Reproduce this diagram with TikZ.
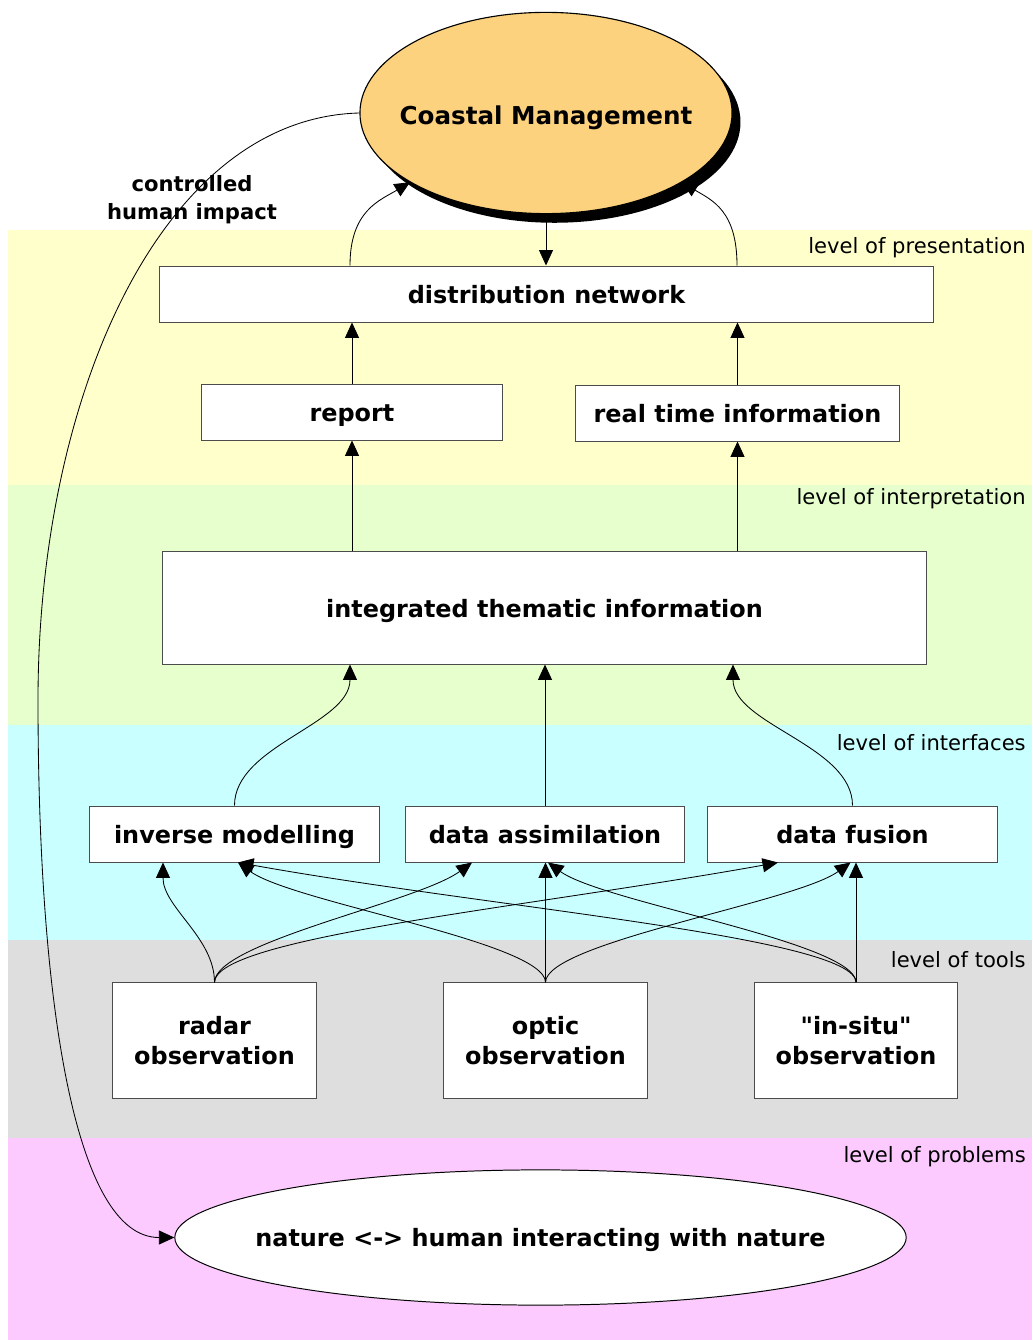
\documentclass[tikz,border=0pt]{standalone}
\usepackage{fontspec}
\setmainfont{DejaVu Sans}[Ligatures=TeXOff]
\usetikzlibrary{arrows.meta,shapes.geometric,shadows,calc}

\definecolor{presentation}{HTML}{FFFFCC}
\definecolor{interpretation}{HTML}{E6FFCC}
\definecolor{interfaces}{HTML}{C9FFFF}
\definecolor{tools}{HTML}{DEDEDE}
\definecolor{problems}{HTML}{FCCAFE}
\definecolor{coastal}{HTML}{FCD27E}

\newcommand{\boxfont}{\fontsize{17}{21.3}\selectfont\bfseries}
\newcommand{\cmfont}{\fontsize{17.5}{21}\selectfont\bfseries}
\newcommand{\impactfont}{\fontsize{15}{20}\selectfont\bfseries}
\newcommand{\levelfont}{\fontsize{15}{18}\selectfont}

\tikzset{
	box/.style={draw=black!70, fill=white, line width=0.7pt, inner sep=0pt, font=\boxfont},
	line/.style={box, text height=16pt, text depth=3pt, minimum height=1.4cm},
	tool/.style={box, align=center, minimum width=5.08cm, minimum height=2.88cm},
	oval/.style={ellipse, draw=black, inner sep=0pt},
	level/.style={anchor=east, inner sep=0pt, font=\levelfont},
	arrow/.style={-{Triangle[length=11pt,width=10pt]}, line width=0.6pt}
}

\begin{document}
\begin{tikzpicture}[x=0.025cm, y=-0.025cm]
\useasboundingbox (0,0) rectangle (1032,1340);

% levels
\fill[presentation] (8,230) rectangle (1032,485);
\fill[interpretation] (8,485) rectangle (1032,725);
\fill[interfaces] (8,725) rectangle (1032,940);
\fill[tools] (8,940) rectangle (1032,1138);
\fill[problems] (8,1138) rectangle (1032,1340);

\node (lpres) at (1026,248) [level] {level of presentation};
\node (linterp) at (1026,499) [level] {level of interpretation};
\node (linter) at (1026,743) [level] {level of interfaces};
\node (ltools) at (1026,960) [level] {level of tools};
\node (lprob) at (1026,1157) [level] {level of problems};

% nodes
\node (cm) at (546,113) [oval, line width=0.8pt, fill=coastal, minimum width=9.3cm, minimum height=5.03cm, drop shadow={shadow xshift=6pt, shadow yshift=-6.5pt, opacity=1, fill=black}, label={[font=\cmfont, yshift=-3.5pt]center:Coastal Management}] {};

\node (dist) at (546.5,294) [line, minimum width=19.33cm] {distribution network};
\node (report) at (352,412) [line, minimum width=7.5cm] {report};
\node (rti) at (737.5,413) [line, minimum width=8.08cm] {real time information};
\node (integ) at (544.5,608) [line, minimum width=19.08cm, minimum height=2.8cm] {integrated thematic information};

\node (inverse) at (234.5,834) [line, minimum width=7.23cm] {inverse modelling};
\node (assim) at (545,834) [line, minimum width=6.95cm] {data assimilation};
\node (fusion) at (852.5,834) [line, minimum width=7.23cm] {data fusion};

\node (radar) at (214.5,1040.5) [tool] {radar\\ observation};
\node (optic) at (545.5,1040.5) [tool] {optic\\ observation};
\node (insitu) at (856,1040.5) [tool] {"in-situ"\\ observation};

\node (nature) at (540.5,1237.5) [oval, line width=0.7pt, fill=white, minimum width=18.28cm, minimum height=3.38cm, label={[font=\boxfont, yshift=-2pt]center:nature <-> human interacting with nature}] {};

\node (impact) at (192,200) [align=center, font=\impactfont] {controlled\\ human impact};

% presentation
\draw [arrow] (cm.south) -- (cm.south |- dist.north);
\draw [arrow] ($(dist.north)+(-196.5,0)$) .. controls +(0,-55) and +(-30,18) .. (cm.-153);
\draw [arrow] ($(dist.north)+(190.5,0)$) .. controls +(0,-55) and +(30,18) .. (cm.-27);
\draw [arrow] (report.north) -- (report.north |- dist.south);
\draw [arrow] (rti.north) -- (rti.north |- dist.south);

% interpretation
\draw [arrow] (integ.north -| report.south) -- (report.south);
\draw [arrow] (integ.north -| rti.south) -- (rti.south);

% interfaces
\draw [arrow] (inverse.north) .. controls +(0,-60) and +(0,60) .. ($(integ.south)+(-194.5,0)$);
\draw [arrow] (assim.north) -- (assim.north |- integ.south);
\draw [arrow] (fusion.north) .. controls +(0,-60) and +(0,60) .. ($(integ.south)+(188.5,0)$);

% tools
\draw [arrow] (radar.north) .. controls +(0,-45) and +(0,45) .. ($(inverse.south)+(-71.5,0)$);
\draw [arrow] (radar.north) .. controls +(0,-40) and +(-55,40) .. ($(assim.south)+(-73,0)$);
\draw [arrow] (radar.north) .. controls +(0,-45) and +(-250,45) .. ($(fusion.south)+(-74.5,0)$);
\draw [arrow] (optic.north) .. controls +(0,-40) and +(55,40) .. ($(inverse.south)+(3.5,0)$);
\draw [arrow] (optic.north) -- (optic.north |- assim.south);
\draw [arrow] (optic.north) .. controls +(0,-40) and +(-55,40) .. ($(fusion.south)+(-2,0)$);
\draw [arrow] (insitu.north) .. controls +(0,-45) and +(250,45) .. ($(inverse.south)+(3.5,0)$);
\draw [arrow] (insitu.north) .. controls +(0,-40) and +(55,40) .. ($(assim.south)+(3,0)$);
\draw [arrow] (insitu.north) -- (insitu.north |- fusion.south);

% problems
\coordinate (bend) at (38,700);
\draw [arrow] (cm.west) .. controls +(-200,5) and +(0,-300) .. (bend) .. controls +(0,300) and +(-100,0) .. (nature.west);
\end{tikzpicture}
\end{document}
